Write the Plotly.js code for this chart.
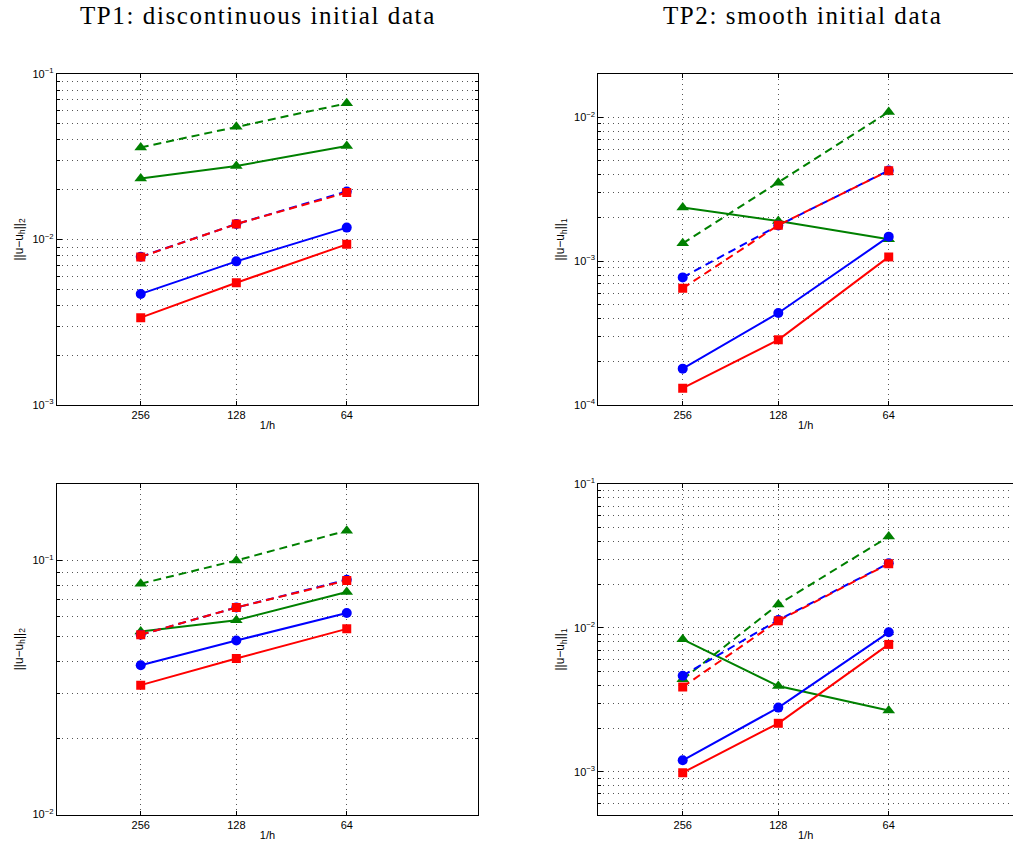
<!DOCTYPE html>
<html><head><meta charset="utf-8">
<script src="https://cdn.plot.ly/plotly-3.0.1.min.js"></script>
<style>body{margin:0;padding:0;background:#fff}#c{width:1013px;height:847px}
.annotation-text{letter-spacing:1.6px}</style>
</head><body><div id="c"></div>
<script>
// ---- data ----
const xLabels = ['256', '128', '64'];
const xPos = [1, 2, 3.155];

// TP1, L2 error (top-left)
const tl_greenDash = [0.036, 0.048, 0.0665];
const tl_greenSolid = [0.0234, 0.0278, 0.0367];
const tl_blueDash = [0.00787, 0.0124, 0.0195];
const tl_redDash = [0.00784, 0.0124, 0.0192];
const tl_blueSolid = [0.00469, 0.00738, 0.0118];
const tl_redSolid = [0.00337, 0.00548, 0.00935];

// TP2, L1 error (top-right)
const tr_greenDash = [0.00133, 0.00351, 0.0109];
const tr_greenSolid = [0.00236, 0.00190, 0.00142];
const tr_blueDash = [0.000771, 0.00177, 0.00427];
const tr_redDash = [0.000647, 0.00178, 0.00425];
const tr_blueSolid = [0.000179, 0.000436, 0.00148];
const tr_redSolid = [0.000131, 0.000284, 0.00107];

// TP1, L2 error (bottom-left)
const bl_greenDash = [0.0810, 0.100, 0.131];
const bl_greenSolid = [0.0525, 0.0582, 0.0751];
const bl_blueDash = [0.0510, 0.0653, 0.0839];
const bl_redDash = [0.0510, 0.0653, 0.0834];
const bl_blueSolid = [0.0387, 0.0484, 0.0621];
const bl_redSolid = [0.0323, 0.0411, 0.0538];

// TP2, L1 error (bottom-right)
const br_greenDash = [0.00439, 0.01455, 0.0431];
const br_greenSolid = [0.00832, 0.00394, 0.00266];
const br_blueDash = [0.00465, 0.01133, 0.0281];
const br_redDash = [0.00388, 0.0112, 0.0279];
const br_blueSolid = [0.00120, 0.00279, 0.00931];
const br_redSolid = [0.000984, 0.00217, 0.00767];

// ---- styling ----
const GREEN = '#008000', BLUE = '#0000ff', RED = '#ff0000';
const DASH = '8px,5px';

function series(y, color, symbol, dash, xa, ya, size) {
  return {
    x: xPos, y: y, xaxis: xa, yaxis: ya, type: 'scatter', mode: 'lines+markers',
    line: {color: color, width: 2, dash: dash},
    marker: {color: color, symbol: symbol, size: size},
    showlegend: false, hoverinfo: 'skip'
  };
}

function panel(d, xa, ya) {
  return [
    series(d.gs, GREEN, 'triangle-up', 'solid', xa, ya, 11),
    series(d.gd, GREEN, 'triangle-up', DASH, xa, ya, 11),
    series(d.bs, BLUE, 'circle', 'solid', xa, ya, 10),
    series(d.bd, BLUE, 'circle', DASH, xa, ya, 10),
    series(d.rs, RED, 'square', 'solid', xa, ya, 9),
    series(d.rd, RED, 'square', DASH, xa, ya, 9)
  ];
}

const traces = [].concat(
  panel({gs: tl_greenSolid, gd: tl_greenDash, bs: tl_blueSolid, bd: tl_blueDash, rs: tl_redSolid, rd: tl_redDash}, 'x', 'y'),
  panel({gs: tr_greenSolid, gd: tr_greenDash, bs: tr_blueSolid, bd: tr_blueDash, rs: tr_redSolid, rd: tr_redDash}, 'x2', 'y2'),
  panel({gs: bl_greenSolid, gd: bl_greenDash, bs: bl_blueSolid, bd: bl_blueDash, rs: bl_redSolid, rd: bl_redDash}, 'x3', 'y3'),
  panel({gs: br_greenSolid, gd: br_greenDash, bs: br_blueSolid, bd: br_blueDash, rs: br_redSolid, rd: br_redDash}, 'x4', 'y4')
);

const W = 1013, H = 847;
const TICKFONT = {family: 'Liberation Sans, Arial, sans-serif', size: 11, color: '#000'};
const GRIDC = '#555';
const GRIDDASH = '1px,4px';

function xaxis(px0, px1, range, anchor) {
  return {
    domain: [px0 / W, px1 / W], range: range, anchor: anchor,
    tickvals: xPos, ticktext: xLabels, ticks: 'inside', ticklen: 4, tickcolor: '#000',
    showline: true, linecolor: '#000', linewidth: 1, mirror: 'ticks',
    showgrid: true, gridcolor: GRIDC, griddash: GRIDDASH, gridwidth: 1,
    zeroline: false, tickfont: TICKFONT,
    title: {text: '1/h', font: TICKFONT, standoff: 1}
  };
}

function decadeTicks(lo, hi) {
  const v = [], t = [];
  for (let d = lo; d <= hi; d++) { v.push(Math.pow(10, d)); t.push('10<sup>\u2212' + (-d) + '</sup>'); }
  return {v, t};
}
function minorTicks(lo, hi) {
  const v = [];
  for (let d = lo; d <= hi; d++) for (let k = 2; k <= 9; k++) v.push(k * Math.pow(10, d));
  return v;
}

function yaxis(py0, py1, lo, hi, decLo, decHi, anchor, label, mirror) {
  const dt = decadeTicks(decLo, decHi);
  return {
    domain: [(H - py1) / H, (H - py0) / H], type: 'log', range: [lo, hi], anchor: anchor,
    tickvals: dt.v, ticktext: dt.t, ticks: 'inside', ticklen: 5, tickcolor: '#000',
    showline: true, linecolor: '#000', linewidth: 1, mirror: mirror,
    showgrid: true, gridcolor: GRIDC, griddash: GRIDDASH, gridwidth: 1,
    zeroline: false, tickfont: TICKFONT,
    minor: {tickvals: minorTicks(decLo - 1, decHi), ticks: 'inside', ticklen: 3, tickcolor: '#000',
            showgrid: true, gridcolor: GRIDC, griddash: GRIDDASH, gridwidth: 1},
    title: {text: label, font: {family: 'Liberation Sans, Arial, sans-serif', size: 12, color: '#000'}, standoff: 6}
  };
}

const L2 = '||u\u2212u<sub>h</sub>||<sub>2</sub>';
const L1 = '||u\u2212u<sub>h</sub>||<sub>1</sub>';

const TITLEFONT = {family: 'Liberation Serif, DejaVu Serif, serif', size: 25, color: '#000'};

const layout = {
  width: W, height: H, margin: {l: 0, r: 0, t: 0, b: 0},
  paper_bgcolor: '#fff', plot_bgcolor: '#fff', showlegend: false,
  xaxis: xaxis(56.7, 478.3, [0.121, 4.531], 'y'),
  yaxis: yaxis(74, 405, -3, -1, -3, -1, 'x', L2, 'ticks'),
  xaxis2: xaxis(598.3, 1013, [0.117, 4.455], 'y2'),
  yaxis2: yaxis(74, 405, -4, Math.log10(0.02), -4, -2, 'x2', L1, false),
  xaxis3: xaxis(56.7, 478.3, [0.121, 4.531], 'y3'),
  yaxis3: yaxis(484, 814.5, -2, Math.log10(0.2), -2, -1, 'x3', L2, 'ticks'),
  xaxis4: xaxis(598.3, 1013, [0.117, 4.455], 'y4'),
  yaxis4: yaxis(484, 815, Math.log10(5e-4), -1, -3, -1, 'x4', L1, false),
  annotations: [
    {text: 'TP1: discontinuous initial data', x: 258 / W, y: 1 - 15 / H, xref: 'paper', yref: 'paper',
     showarrow: false, xanchor: 'center', yanchor: 'middle', font: TITLEFONT},
    {text: 'TP2: smooth initial data', x: 802 / W, y: 1 - 15 / H, xref: 'paper', yref: 'paper',
     showarrow: false, xanchor: 'center', yanchor: 'middle', font: TITLEFONT}
  ]
};

Plotly.newPlot('c', traces, layout, {staticPlot: true, displayModeBar: false});
</script>
</body></html>
